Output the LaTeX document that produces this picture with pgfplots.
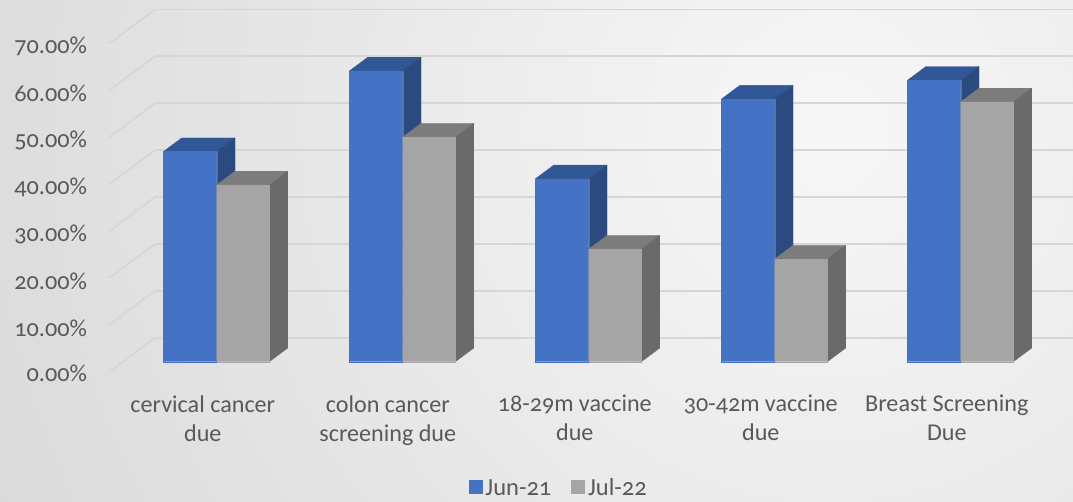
\documentclass[border=0pt]{standalone}
\usepackage{pgfplots}
\pgfplotsset{compat=1.18}
\usepackage{fontspec}
\setmainfont[Numbers=OldStyle]{Carlito}
\definecolor{bluef}{HTML}{4472C4}
\definecolor{blues}{HTML}{2B4A80}
\definecolor{bluet}{HTML}{325796}
\definecolor{greyf}{HTML}{A5A5A5}
\definecolor{greys}{HTML}{6A6A6A}
\definecolor{greyt}{HTML}{7C7C7C}
\definecolor{txt}{HTML}{595959}
\definecolor{gridc}{HTML}{D6D6D6}
\newcommand{\onebar}[6]{%
 % x0, x1, value, top colour, side colour, front colour
 \addplot3[fill=#4,draw=#4,line width=.2pt,forget plot,no markers] coordinates {(#1,0.3,#3)(#2,0.3,#3)(#2,0.7,#3)(#1,0.7,#3)(#1,0.3,#3)};
 \addplot3[fill=#5,draw=#5,line width=.2pt,forget plot,no markers] coordinates {(#2,0.3,0)(#2,0.7,0)(#2,0.7,#3)(#2,0.3,#3)(#2,0.3,0)};
 \addplot3[fill=#6,draw=#6,line width=.2pt,forget plot,no markers] coordinates {(#1,0.3,0)(#2,0.3,0)(#2,0.3,#3)(#1,0.3,#3)(#1,0.3,0)};
}
\newcommand{\onegroup}[3]{%
 \pgfmathsetmacro{\xa}{#1+0.218}\pgfmathsetmacro{\xb}{#1+0.5045}\pgfmathsetmacro{\xc}{#1+0.788}%
 \onebar{\xa}{\xb}{#2}{bluet}{blues}{bluef}
 \onebar{\xb}{\xc}{#3}{greyt}{greys}{greyf}
}
\begin{document}
\begin{tikzpicture}[x=0.75pt,y=0.75pt]
\useasboundingbox (0,0) rectangle (1073,502);
\clip (0,0) rectangle (1073,502);
\shade[inner color=white!97!black,outer color=white!85!black] (830,370) circle (960);
\begin{axis}[
  at={(109*0.75pt,130*0.75pt)},anchor=origin,
  x={(139.5pt,0pt)},y={(34.5pt,25.7pt)},z={(0pt,3.5175pt)},
  xmin=0,xmax=5,ymin=0,ymax=1,zmin=0,zmax=70,
  clip=false,
  axis line style={draw=none},
  major tick length=0pt,
  zmajorgrids,
  major grid style={gridc,line width=1.3pt},
  ytick=\empty,
  ztick={0,10,20,30,40,50,60,70},
  zticklabels={0.00\%,10.00\%,20.00\%,30.00\%,40.00\%,50.00\%,60.00\%,70.00\%},
  xtick={0.5,1.5,2.5,3.5,4.5},
  xticklabels={cervical cancer\\due,colon cancer\\screening due,18-29m vaccine\\due,30-42m vaccine\\due,Breast Screening\\Due},
  xticklabel style={align=center,font=\fontsize{18.1}{21.75}\selectfont,text=txt,xshift=11pt,yshift=-14pt},
  zticklabel style={font=\fontsize{18.2}{20}\selectfont,text=txt,xshift=-13pt,yshift=8pt},
  legend style={at={(axis cs:2.42,0,-24.8)},anchor=center,draw=none,fill=none,legend columns=2,
    font=\fontsize{18.4}{20}\selectfont,text=txt,/tikz/every even column/.append style={column sep=13pt}},
  legend image code/.code={\fill[#1] (0,-0.14cm) rectangle (0.37cm,0.23cm);},
]
\addlegendimage{fill=bluef,draw=none}
\addlegendentry{Jun-21}
\addlegendimage{fill=greyf,draw=none}
\addlegendentry{Jul-22}
\onegroup{0}{44.8}{37.7}
\onegroup{1}{62.0}{47.9}
\onegroup{2}{39.0}{24.0}
\onegroup{3}{56.0}{21.9}
\onegroup{4}{60.0}{55.4}
\end{axis}
\end{tikzpicture}
\end{document}
